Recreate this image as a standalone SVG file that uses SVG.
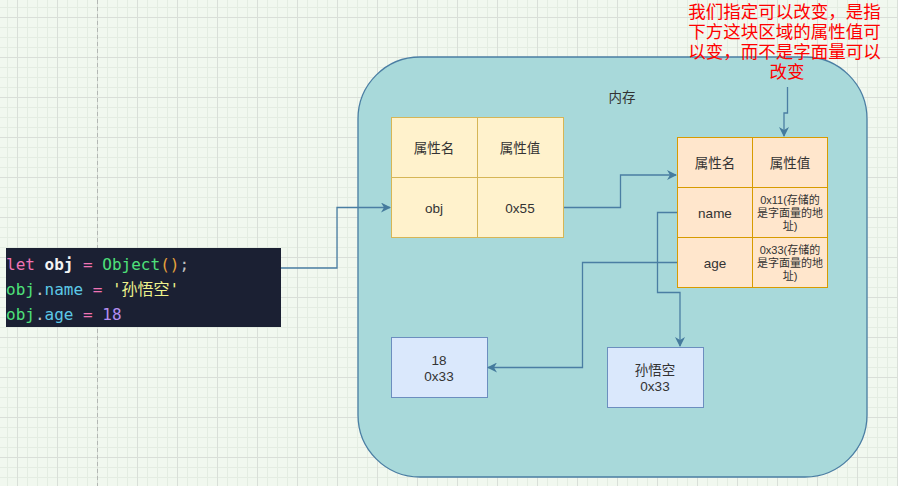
<svg xmlns="http://www.w3.org/2000/svg" width="898" height="486" viewBox="0 0 898 486">
<defs>
<pattern id="minor" x="7" y="7" width="10" height="10" patternUnits="userSpaceOnUse">
<path d="M0 0.5H10M0.5 0V10" fill="none" stroke="#e4ede2" stroke-width="1"/>
</pattern>
<pattern id="major" x="17" y="17" width="40" height="40" patternUnits="userSpaceOnUse">
<path d="M0 0.5H40M0.5 0V40" fill="none" stroke="#d9dfd8" stroke-width="1"/>
</pattern>
<marker id="arr" viewBox="0 0 10 10" refX="9" refY="5" markerWidth="10" markerHeight="10" markerUnits="userSpaceOnUse" orient="auto">
<path d="M0 0L10 5L0 10L3 5Z" fill="#457b9d"/>
</marker>
<style>
.c{fill:none;stroke:#4a7ea3;stroke-width:1.3}
.t{font-family:"Liberation Sans","Noto Sans CJK SC",sans-serif;font-size:13.5px;fill:#333;text-anchor:middle;dominant-baseline:central}
.s{font-family:"Liberation Sans","Noto Sans CJK SC",sans-serif;font-size:11px;fill:#333;text-anchor:middle;dominant-baseline:central}
.code{font-family:"DejaVu Sans Mono","Noto Sans CJK SC",monospace;font-size:16px}
.y{fill:#fff2cc;stroke:#d6b656}
.o{fill:#ffe6cc;stroke:#d79b00}
.b{fill:#dae8fc;stroke:#6c8ebf}
</style>
</defs>
<rect width="898" height="486" fill="#f1f8ef"/>
<rect width="898" height="486" fill="url(#minor)"/>
<rect width="898" height="486" fill="url(#major)"/>
<line x1="97.5" y1="0" x2="97.5" y2="486" stroke="#b3b7b3" stroke-dasharray="4 3"/>

<g id="memory">
<rect x="358" y="57" width="509" height="420" rx="62" ry="62" fill="#a8d9da" stroke="#4a7ea3" stroke-width="1.3"/>
<text x="622" y="97" class="t" font-size="14">内存</text>
</g>

<g id="table1">
<rect x="391.5" y="117.5" width="86" height="60" class="y"/>
<rect x="477.5" y="117.5" width="86" height="60" class="y"/>
<rect x="391.5" y="177.5" width="86" height="60" class="y"/>
<rect x="477.5" y="177.5" width="86" height="60" class="y"/>
<text x="434" y="148" class="t">属性名</text>
<text x="520" y="148" class="t">属性值</text>
<text x="434" y="208" class="t">obj</text>
<text x="520" y="208" class="t">0x55</text>
</g>

<g id="table2">
<rect x="677.5" y="137.5" width="75" height="50" class="o"/>
<rect x="752.5" y="137.5" width="75" height="50" class="o"/>
<rect x="677.5" y="187.5" width="75" height="50" class="o"/>
<rect x="752.5" y="187.5" width="75" height="50" class="o"/>
<rect x="677.5" y="237.5" width="75" height="50" class="o"/>
<rect x="752.5" y="237.5" width="75" height="50" class="o"/>
<text x="715" y="163" class="t">属性名</text>
<text x="790" y="163" class="t">属性值</text>
<text x="715" y="213" class="t">name</text>
<text x="715" y="263" class="t">age</text>
<text x="790" y="200" class="s">0x11(存储的</text>
<text x="790" y="213" class="s">是字面量的地</text>
<text x="790" y="226" class="s">址)</text>
<text x="790" y="250" class="s">0x33(存储的</text>
<text x="790" y="263" class="s">是字面量的地</text>
<text x="790" y="276" class="s">址)</text>
</g>

<g id="box18">
<rect x="391.5" y="337.5" width="96" height="60" class="b"/>
<text x="439" y="360" class="t">18</text>
<text x="439" y="376" class="t">0x33</text>
</g>

<g id="boxSun">
<rect x="607.5" y="347.5" width="96" height="60" class="b"/>
<text x="655" y="370" class="t">孙悟空</text>
<text x="655" y="386" class="t">0x33</text>
</g>

<g id="code">
<rect x="6" y="248" width="275" height="79" fill="#1b2033"/>
<text x="6" y="270" class="code"><tspan fill="#f173b4">let</tspan><tspan fill="#f3f3f3" font-weight="bold"> obj</tspan><tspan fill="#f173b4"> =</tspan><tspan fill="#4ee07a"> Object</tspan><tspan fill="#e6a23c">()</tspan><tspan fill="#c0c0c0">;</tspan></text>
<text x="6" y="295" class="code"><tspan fill="#4ee07a">obj</tspan><tspan fill="#c0c0c0">.</tspan><tspan fill="#5cc8e6">name</tspan><tspan fill="#f173b4"> =</tspan><tspan fill="#eef28c"> '孙悟空'</tspan></text>
<text x="6" y="320" class="code"><tspan fill="#4ee07a">obj</tspan><tspan fill="#c0c0c0">.</tspan><tspan fill="#5cc8e6">age</tspan><tspan fill="#f173b4"> =</tspan><tspan fill="#b48ef0"> 18</tspan></text>
</g>

<g id="note">
<text font-family="'Liberation Sans','Noto Sans CJK SC',sans-serif" font-size="17.5" fill="#ff0000" text-anchor="middle">
<tspan x="787" y="18">我们指定可以改变，是指</tspan>
<tspan x="787" y="38">下方这块区域的属性值可</tspan>
<tspan x="787" y="58">以变，而不是字面量可以</tspan>
<tspan x="787" y="78">改变</tspan>
</text>
</g>

<g id="connectors">
<path class="c" d="M281 268H337V207.5H390" marker-end="url(#arr)"/>
<path class="c" d="M564 207.5H620.5V175H676" marker-end="url(#arr)"/>
<path class="c" d="M677 212.5H657.5V292.5H680V346" marker-end="url(#arr)"/>
<path class="c" d="M677 262.5H582.5V367.5H488" marker-end="url(#arr)"/>
<path class="c" d="M787.5 87V113H784V136" marker-end="url(#arr)"/>
</g>
</svg>
